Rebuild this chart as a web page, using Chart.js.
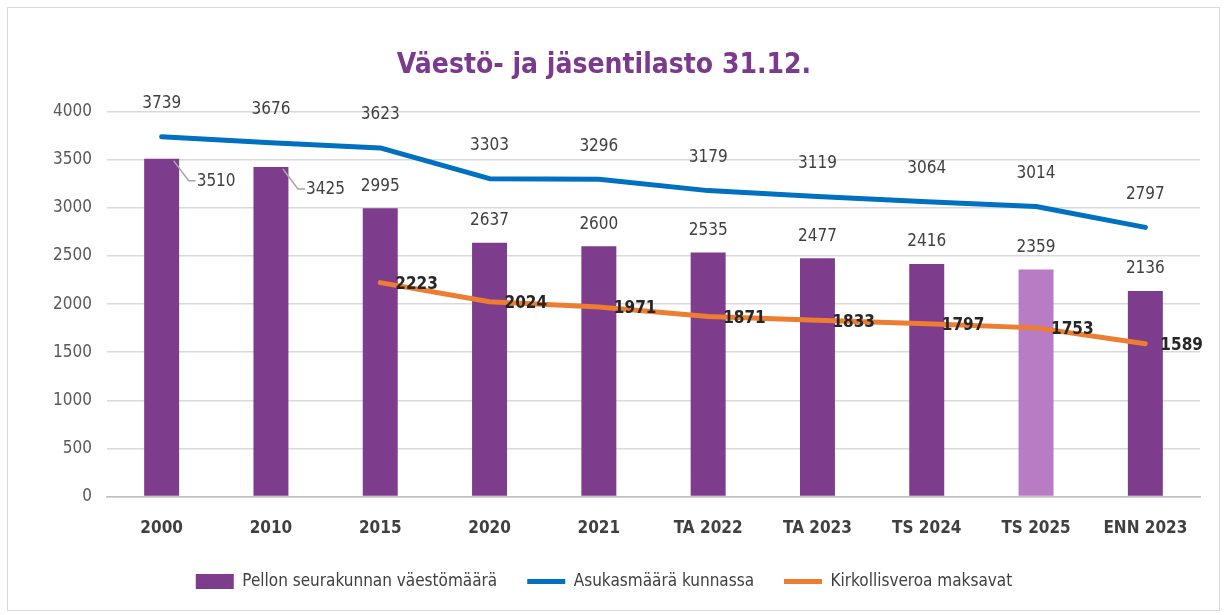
<!DOCTYPE html>
<html>
<head>
<meta charset="utf-8">
<script src="https://cdn.jsdelivr.net/npm/chart.js@4/dist/chart.umd.min.js"></script>
<style>
  body { margin: 0; background: #fff; }
  #box { position: absolute; left: 7px; top: 7px; width: 1211px; height: 602px; border: 1px solid #d9d9d9; }
</style>
</head>
<body>
<div id="box"><canvas id="mycanvas" width="1211" height="600"></canvas></div>
<script>
var vuodet = ['2000', '2010', '2015', '2020', '2021', 'TA 2022', 'TA 2023', 'TS 2024', 'TS 2025', 'ENN 2023'];
var seurakunta = [3510, 3425, 2995, 2637, 2600, 2535, 2477, 2416, 2359, 2136];
var asukkaat = [3739, 3676, 3623, 3303, 3296, 3179, 3119, 3064, 3014, 2797];
var veronmaksajat = [null, null, 2223, 2024, 1971, 1871, 1833, 1797, 1753, 1589];
var yTicks = [0, 500, 1000, 1500, 2000, 2500, 3000, 3500, 4000];

var FONT = "'Liberation Sans Narrow', 'Arial Narrow', 'DejaVu Sans Condensed', sans-serif";
var purple = '#7d3c8c';
var lightPurple = '#b77cc4';

var barColors = [];
for (var i in vuodet) {
	barColors.push(vuodet[i] == 'TS 2025' ? lightPurple : purple);
}

// labels drawn next to the marks
var labelPlugin = {
	id: 'arvot',
	afterDatasetsDraw: function(chart) {
		var ctx = chart.ctx;
		ctx.save();
		ctx.textBaseline = 'middle';

		// bars
		var bars = chart.getDatasetMeta(0).data;
		ctx.font = "17px " + FONT;
		ctx.fillStyle = '#404040';
		bars.forEach(function(bar, i) {
			var txt = String(seurakunta[i]);
			if (i < 2) {
				// leader line to label on the right
				ctx.strokeStyle = '#a6a6a6';
				ctx.lineWidth = 1.5;
				ctx.beginPath();
				ctx.moveTo(bar.x + 12, bar.y + 2);
				ctx.lineTo(bar.x + 27, bar.y + 22);
				ctx.lineTo(bar.x + 34, bar.y + 22);
				ctx.stroke();
				ctx.textAlign = 'left';
				ctx.fillText(txt, bar.x + 35, bar.y + 23);
			} else {
				ctx.textAlign = 'center';
				ctx.fillText(txt, bar.x, bar.y - 22);
			}
		});

		// blue line
		var pts = chart.getDatasetMeta(1).data;
		ctx.textAlign = 'center';
		pts.forEach(function(p, i) {
			ctx.fillText(String(asukkaat[i]), p.x, p.y - 33);
		});

		// orange line
		var pts2 = chart.getDatasetMeta(2).data;
		ctx.font = "bold 17px " + FONT;
		ctx.fillStyle = '#262626';
		ctx.textAlign = 'left';
		pts2.forEach(function(p, i) {
			if (veronmaksajat[i] == null) return;
			ctx.fillText(String(veronmaksajat[i]), p.x + 15, p.y + 2);
		});
		ctx.restore();
	}
};

var chartdata = {
	labels: vuodet,
	datasets: [
		{
			type: 'bar',
			label: 'Pellon seurakunnan väestömäärä',
			data: seurakunta,
			backgroundColor: barColors,
			categoryPercentage: 1,
			barPercentage: 0.32,
			order: 3
		},
		{
			type: 'line',
			label: 'Asukasmäärä kunnassa',
			data: asukkaat,
			borderColor: '#0070c0',
			backgroundColor: '#0070c0',
			borderWidth: 5,
			pointRadius: 0,
			tension: 0,
			borderJoinStyle: 'round',
			borderCapStyle: 'round',
			pointStyle: 'line',
			order: 1
		},
		{
			type: 'line',
			label: 'Kirkollisveroa maksavat',
			data: veronmaksajat,
			borderColor: '#ed7d31',
			backgroundColor: '#ed7d31',
			borderWidth: 5,
			pointRadius: 0,
			tension: 0,
			borderJoinStyle: 'round',
			borderCapStyle: 'round',
			pointStyle: 'line',
			order: 2
		}
	]
};

var ctx = document.getElementById('mycanvas');

var barGraph = new Chart(ctx, {
	type: 'bar',
	data: chartdata,
	plugins: [labelPlugin],
	options: {
		responsive: false,
		animation: false,
		layout: { padding: { left: 0, right: 19, top: 10, bottom: 8 } },
		plugins: {
			title: {
				display: true,
				text: 'Väestö- ja jäsentilasto 31.12.',
				color: '#7b3a8e',
				font: { family: FONT, size: 28, weight: 'bold' },
				padding: { top: 31, bottom: 29 }
			},
			legend: {
				position: 'bottom',
				labels: {
					usePointStyle: true,
					pointStyleWidth: 38,
					boxHeight: 15,
					padding: 30,
					color: '#404040',
					font: { family: FONT, size: 17 },
					sort: function(a, b) { return a.datasetIndex - b.datasetIndex; },
					generateLabels: function(chart) {
						var items = Chart.defaults.plugins.legend.labels.generateLabels(chart);
						items.forEach(function(it) {
							if (it.datasetIndex == 0) {
								it.pointStyle = 'rect';
								it.fillStyle = purple;
								it.strokeStyle = purple;
								it.lineWidth = 0;
							}
						});
						return items;
					}
				}
			},
			tooltip: { enabled: false }
		},
		scales: {
			x: {
				grid: { display: false },
				border: { color: '#bfbfbf', width: 1.5 },
				// the wide legend padding eats space, give some back
				afterFit: function(scale) { scale.height -= 10; },
				ticks: {
					color: '#404040',
					padding: 14,
					font: { family: FONT, size: 17, weight: 'bold' }
				}
			},
			y: {
				min: 0,
				max: 4000,
				afterFit: function(scale) { scale.width = 99; },
				afterBuildTicks: function(scale) {
					scale.ticks = yTicks.map(function(v) { return { value: v }; });
				},
				grid: { color: '#d9d9d9', lineWidth: 1.5, drawTicks: false },
				border: { display: false },
				ticks: {
					color: '#595959',
					padding: 15,
					font: { family: FONT, size: 17 },
					callback: function(v) { return String(v); }
				}
			}
		}
	}
});
</script>
</body>
</html>
